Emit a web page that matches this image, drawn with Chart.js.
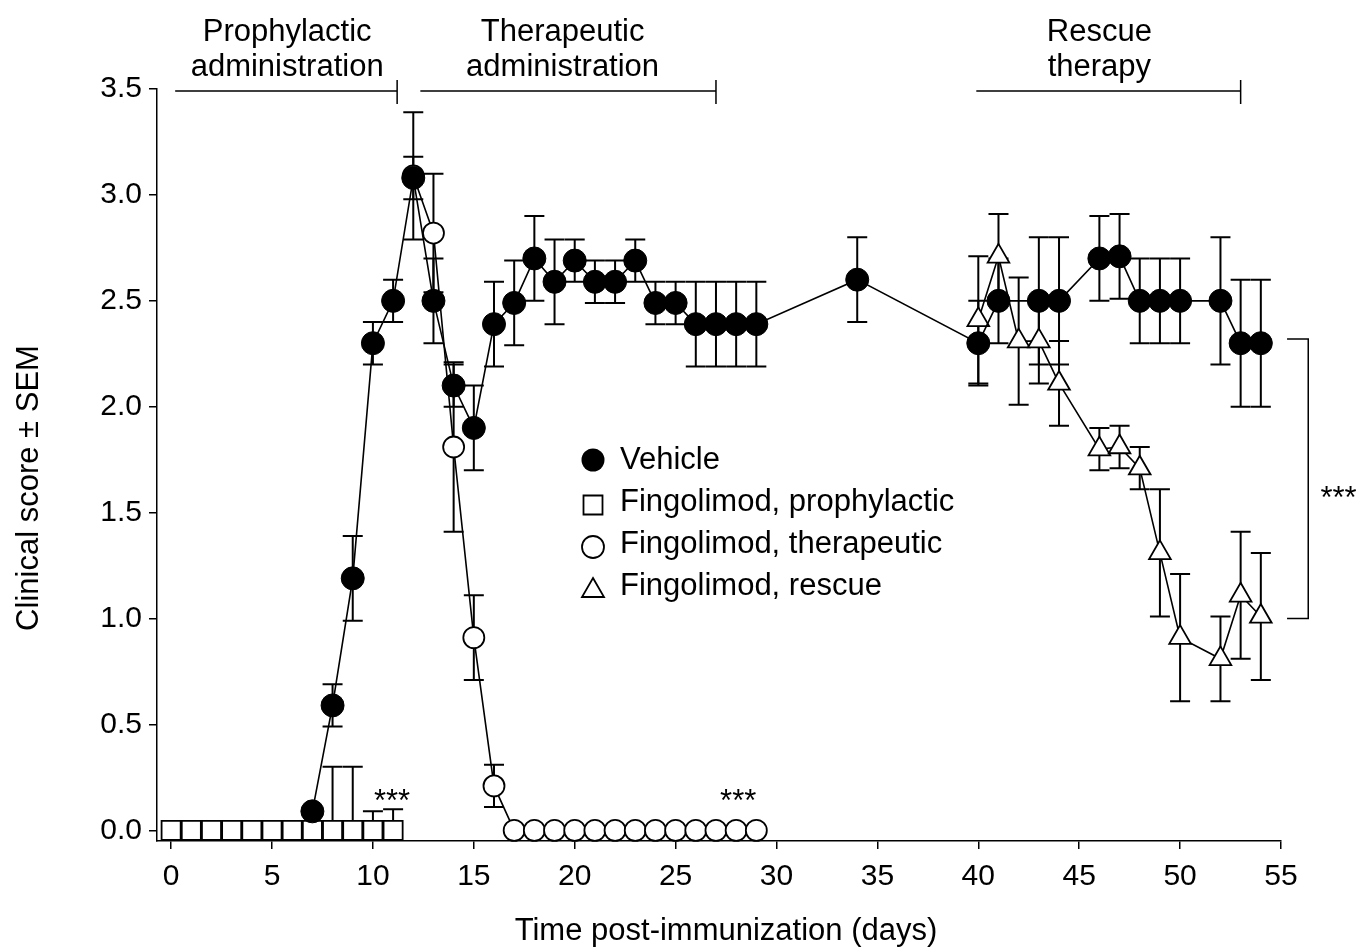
<!DOCTYPE html>
<html>
<head>
<meta charset="utf-8">
<script src="https://cdn.jsdelivr.net/npm/chart.js@4.4.1/dist/chart.umd.min.js"></script>
<style>
  html, body { margin: 0; padding: 0; background: #fff; }
  #wrap { width: 1360px; height: 948px; }
</style>
</head>
<body>
<div id="wrap"><canvas id="c" width="1360" height="948"></canvas></div>
<script>
// ---------------- DATA ----------------
const vehicleDays  = [7,8,9,10,11,12,13,14,15,16,17,18,19,20,21,22,23,24,25,26,27,28,29,34,40,41,43,44,46,47,48,49,50,52,53,54];
const vehicleScore = [0.09,0.59,1.19,2.3,2.5,3.08,2.5,2.1,1.9,2.39,2.49,2.7,2.59,2.69,2.59,2.59,2.69,2.49,2.49,2.39,2.39,2.39,2.39,2.6,2.3,2.5,2.5,2.5,2.7,2.71,2.5,2.5,2.5,2.5,2.3,2.3];
const vehicleSem   = [0,0.1,0.2,0.1,0.1,0.1,0.2,0.1,0.2,0.2,0.2,0.2,0.2,0.1,0.1,0.1,0.1,0.1,0.1,0.2,0.2,0.2,0.2,0.2,0.2,0.2,0.3,0.3,0.2,0.2,0.2,0.2,0.2,0.3,0.3,0.3];

const prophyDays  = [0,1,2,3,4,5,6,7,8,9,10,11];
const prophyScore = [0,0,0,0,0,0,0,0,0,0,0,0];
const prophySemUp = [0,0,0,0,0,0,0,0,0.3,0.3,0.09,0.1];

const therapDays  = [12,13,14,15,16,17,18,19,20,21,22,23,24,25,26,27,28,29];
const therapScore = [3.09,2.82,1.81,0.91,0.21,0,0,0,0,0,0,0,0,0,0,0,0,0];
const therapSem   = [0.3,0.28,0.4,0.2,0.1,0,0,0,0,0,0,0,0,0,0,0,0,0];

const rescueDays  = [40,41,42,43,44,46,47,48,49,50,52,53,54];
const rescueScore = [2.41,2.71,2.31,2.31,2.11,1.8,1.81,1.71,1.31,0.91,0.81,1.11,1.01];
const rescueSem   = [0.3,0.2,0.3,0.2,0.2,0.1,0.1,0.1,0.3,0.3,0.2,0.3,0.3];

const xTickValues = [0,5,10,15,20,25,30,35,40,45,50,55];
const yTickValues = [0,0.5,1,1.5,2,2.5,3,3.5];

const seriesLabels = ['Vehicle','Fingolimod, prophylactic','Fingolimod, therapeutic','Fingolimod, rescue'];
const phaseLabels = [['Prophylactic','administration'],['Therapeutic','administration'],['Rescue','therapy']];
const phaseRanges = [[0.2,11.2],[12.35,27.0],[39.9,53.0]];
const phaseLabelX = [5.75,19.4,46.0];

const xTitle = 'Time post-immunization (days)';
const yTitle = 'Clinical score \u00b1 SEM';

// ---------------- CHART ----------------
const FONT = "'Liberation Sans', Arial, Helvetica, sans-serif";
const TEXT_SIZE = 31;
const TICK_SIZE = 30;
const toXY = (xs, ys) => xs.map((x, i) => ({x: x, y: ys[i]}));

const errorSets = [
  {days: vehicleDays, score: vehicleScore, lo: vehicleSem, hi: vehicleSem},
  {days: prophyDays, score: prophyScore, lo: prophyDays.map(() => 0), hi: prophySemUp},
  {days: therapDays, score: therapScore, lo: therapSem, hi: therapSem},
  {days: rescueDays, score: rescueScore, lo: rescueSem, hi: rescueSem}
];

const errorBarPlugin = {
  id: 'errorBars',
  beforeDatasetsDraw(chart) {
    const {ctx, scales: {x, y}} = chart;
    ctx.save();
    ctx.strokeStyle = '#000';
    ctx.lineWidth = 2;
    errorSets.forEach(s => {
      s.days.forEach((d, i) => {
        const lo = s.lo[i], hi = s.hi[i];
        if (!lo && !hi) return;
        const px = x.getPixelForValue(d);
        const top = y.getPixelForValue(s.score[i] + hi);
        const bot = y.getPixelForValue(s.score[i] - lo);
        ctx.beginPath();
        ctx.moveTo(px, top); ctx.lineTo(px, bot);
        if (hi) { ctx.moveTo(px - 10, top); ctx.lineTo(px + 10, top); }
        if (lo) { ctx.moveTo(px - 10, bot); ctx.lineTo(px + 10, bot); }
        ctx.stroke();
      });
    });
    ctx.restore();
  }
};

function drawMarker(ctx, type, cx, cy) {
  ctx.save();
  ctx.lineWidth = 1.8;
  ctx.strokeStyle = '#000';
  ctx.beginPath();
  if (type === 'fcircle') {
    ctx.fillStyle = '#000';
    ctx.arc(cx, cy, 11.5, 0, Math.PI * 2);
    ctx.fill();
  } else if (type === 'square') {
    ctx.rect(cx - 9.5, cy - 9.5, 19, 19);
    ctx.stroke();
  } else if (type === 'ocircle') {
    ctx.arc(cx, cy, 11, 0, Math.PI * 2);
    ctx.stroke();
  } else if (type === 'triangle') {
    ctx.moveTo(cx, cy - 11);
    ctx.lineTo(cx + 11, cy + 8);
    ctx.lineTo(cx - 11, cy + 8);
    ctx.closePath();
    ctx.stroke();
  }
  ctx.restore();
}

const annotPlugin = {
  id: 'annot',
  afterDraw(chart) {
    const {ctx, scales: {x, y}} = chart;
    ctx.save();
    ctx.fillStyle = '#000';
    ctx.strokeStyle = '#000';
    // axis titles
    ctx.font = TEXT_SIZE + 'px ' + FONT;
    ctx.textAlign = 'center';
    ctx.textBaseline = 'middle';
    ctx.fillText(xTitle, (x.left + x.right) / 2 + 7, 931);
    ctx.save();
    ctx.translate(29, 488);
    ctx.rotate(-Math.PI / 2);
    ctx.fillText(yTitle, 0, 0);
    ctx.restore();

    // phase brackets
    const by = y.getPixelForValue(3.49);
    ctx.lineWidth = 1.5;
    phaseRanges.forEach((r, i) => {
      const x0 = x.getPixelForValue(r[0]);
      const x1 = x.getPixelForValue(r[1]);
      ctx.beginPath();
      ctx.moveTo(x0, by); ctx.lineTo(x1, by);
      ctx.moveTo(x1, by - 11); ctx.lineTo(x1, by + 13);
      ctx.stroke();
      const lx = x.getPixelForValue(phaseLabelX[i]);
      ctx.fillText(phaseLabels[i][0], lx, 32);
      ctx.fillText(phaseLabels[i][1], lx, 67);
    });

    // significance stars
    ctx.font = TEXT_SIZE + 'px ' + FONT;
    ctx.textBaseline = 'alphabetic';
    ctx.fillText('***', x.getPixelForValue(10.95), y.getPixelForValue(0.16) + 14);
    ctx.fillText('***', x.getPixelForValue(28.1), y.getPixelForValue(0.16) + 14);
    ctx.fillText('***', x.getPixelForValue(57.85), y.getPixelForValue(1.59) + 14);

    // right bracket
    const bx = x.getPixelForValue(56.35), bx0 = x.getPixelForValue(55.3);
    const yTop = y.getPixelForValue(2.32), yBot = y.getPixelForValue(1.0);
    ctx.lineWidth = 1.5;
    ctx.beginPath();
    ctx.moveTo(bx0, yTop); ctx.lineTo(bx, yTop); ctx.lineTo(bx, yBot); ctx.lineTo(bx0, yBot);
    ctx.stroke();

    // legend
    const types = ['fcircle','square','ocircle','triangle'];
    const ly = [460, 502, 544, 586];
    const off = [0, 3, 3, 3];
    ctx.font = TEXT_SIZE + 'px ' + FONT;
    ctx.textAlign = 'left';
    ctx.textBaseline = 'middle';
    seriesLabels.forEach((lab, i) => {
      drawMarker(ctx, types[i], 593, ly[i] + off[i]);
      ctx.fillText(lab, 620, ly[i]);
    });
    ctx.restore();
  }
};

const common = {showLine: true, borderColor: '#000', borderWidth: 1.6, tension: 0, fill: false, clip: false, pointBorderColor: '#000'};

new Chart(document.getElementById('c').getContext('2d'), {
  type: 'line',
  data: {
    datasets: [
      Object.assign({}, common, {label: seriesLabels[0], data: toXY(vehicleDays, vehicleScore),
        pointStyle: 'circle', pointRadius: 11.5, pointBackgroundColor: '#000', pointBorderWidth: 1}),
      Object.assign({}, common, {label: seriesLabels[1], data: toXY(prophyDays, prophyScore),
        pointStyle: 'rect', pointRadius: 13.5, pointBackgroundColor: '#fff', pointBorderWidth: 1.8}),
      Object.assign({}, common, {label: seriesLabels[2], data: toXY(therapDays, therapScore),
        pointStyle: 'circle', pointRadius: 10.5, pointBackgroundColor: '#fff', pointBorderWidth: 1.8}),
      Object.assign({}, common, {label: seriesLabels[3], data: toXY(rescueDays, rescueScore),
        pointStyle: 'triangle', pointRadius: 12.5, pointBackgroundColor: '#fff', pointBorderWidth: 1.8})
    ]
  },
  options: {
    responsive: false,
    animation: false,
    devicePixelRatio: 1,
    layout: {padding: {top: 89, right: 79, left: 0, bottom: 0}},
    plugins: {legend: {display: false}, tooltip: {enabled: false}},
    elements: {point: {hoverRadius: 11}},
    scales: {
      x: {
        type: 'linear', min: -0.7, max: 55,
        afterBuildTicks: s => { s.ticks = xTickValues.map(v => ({value: v})); },
        afterFit: s => { s.height = 107; },
        grid: {display: true, drawOnChartArea: false, drawTicks: true, tickLength: 8, color: '#000', lineWidth: 1.5},
        border: {display: true, color: '#000', width: 1.5},
        ticks: {color: '#000', font: {size: TICK_SIZE, family: FONT}, padding: 10, maxRotation: 0, autoSkip: false,
          callback: v => String(v)}
      },
      y: {
        type: 'linear', min: -0.05, max: 3.5,
        afterBuildTicks: s => { s.ticks = yTickValues.map(v => ({value: v})); },
        afterFit: s => { s.width = 157; },
        grid: {display: true, drawOnChartArea: false, drawTicks: true, tickLength: 8, color: '#000', lineWidth: 1.5},
        border: {display: true, color: '#000', width: 1.5},
        ticks: {color: '#000', font: {size: TICK_SIZE, family: FONT}, padding: 7,
          callback: v => Number(v).toFixed(1)}
      }
    }
  },
  plugins: [errorBarPlugin, annotPlugin]
});
</script>
</body>
</html>
